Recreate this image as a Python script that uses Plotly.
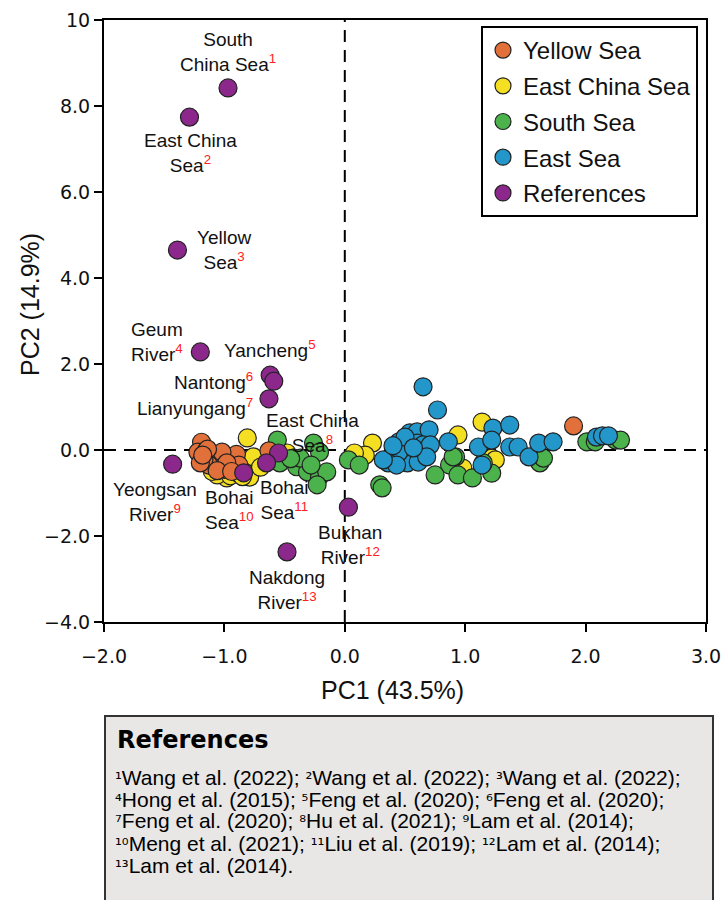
import plotly.graph_objects as go

# ---------------- data ----------------
# Yellow Sea (orange)
ys_x = [-1.19, -1.22, -1.15, -1.12, -1.10, -1.05, -1.00, -0.95, -0.92, -0.97, -1.03, -1.08, -1.13,
        -1.17, -1.20, -0.90, -0.88, -1.02, -0.98, -1.06, -0.94, -1.14, -1.18, -0.63, 1.90]
ys_y = [0.18, -0.05, -0.02, -0.15, -0.28, -0.35, -0.45, -0.40, -0.25, -0.18, -0.20, -0.10, -0.35,
        -0.22, -0.30, -0.10, -0.35, -0.05, -0.30, -0.48, -0.50, 0.02, -0.12, -0.02, 0.56]
# East China Sea (yellow)
ecs_x = [-0.81, -0.76, -0.79, -0.98, -1.06, -0.95, -0.88, -0.48, -0.43, -0.70, 0.23, 0.17, 0.08,
         0.94, 1.14, 0.98, 1.22, 1.25, -0.85, -1.10]
ecs_y = [0.28, -0.16, -0.63, -0.65, -0.58, -0.60, -0.55, -0.07, -0.19, -0.40, 0.16, -0.12, -0.07,
         0.35, 0.65, -0.42, -0.19, -0.23, -0.62, -0.50]
# South Sea (green)
ss_x = [-0.56, -0.26, -0.21, -0.54, -0.40, -0.31, -0.21, -0.15, -0.23, -0.37, 0.03, 0.12, 0.29, 0.31,
        0.92, 0.87, 0.94, 0.75, 1.06, 1.22, 1.15, 1.62, 1.65, 2.01, 2.08, 2.25, 2.29, 0.90, -0.45, -0.28]
ss_y = [0.23, 0.16, -0.05, -0.30, -0.39, -0.51, -0.62, -0.51, -0.81, -0.19, -0.23, -0.35, -0.81, -0.88,
        -0.16, -0.35, -0.58, -0.58, -0.65, -0.54, -0.30, -0.30, -0.19, 0.19, 0.19, 0.23, 0.23, -0.16, -0.20, -0.35]
# East Sea (blue)
es_x = [0.65, 0.77, 0.45, 0.54, 0.60, 0.70, 0.60, 0.65, 0.71, 0.54, 0.52, 0.61, 0.68, 0.45, 0.36, 0.43,
        0.32, 0.86, 1.11, 1.23, 1.37, 1.22, 1.14, 1.37, 1.44, 1.53, 1.61, 1.73, 2.09, 2.14, 2.19, 0.50, 0.57, 0.40]
es_y = [1.47, 0.93, 0.19, 0.40, 0.42, 0.47, 0.16, 0.12, 0.12, -0.07, -0.30, -0.28, -0.16, -0.05, -0.30, -0.35,
        -0.23, 0.19, 0.07, 0.51, 0.58, 0.23, -0.35, 0.07, 0.07, -0.16, 0.16, 0.19, 0.30, 0.33, 0.33, 0.30, 0.05, 0.10]
# References (purple)
ref_x = [-0.97, -1.29, -1.39, -1.20, -0.62, -0.59, -0.63, -0.55, -1.43, -0.84, -0.65, 0.03, -0.48]
ref_y = [8.42, 7.74, 4.65, 2.28, 1.74, 1.60, 1.19, -0.07, -0.33, -0.53, -0.30, -1.33, -2.37]

# labels for reference points
label_text = ["South<br>China Sea", "East China<br>Sea", "Yellow<br>Sea", "Geum<br>River", "Yancheng",
              "Nantong", "Lianyungang", "East China<br>Sea", "Yeongsan<br>River", "Bohai<br>Sea",
              "Bohai<br>Sea", "Bukhan<br>River", "Nakdong<br>River"]
label_num = ["1", "2", "3", "4", "5", "6", "7", "8", "9", "10", "11", "12", "13"]
label_x = [-0.97, -1.28, -1.00, -1.79, -1.02, -0.745, -0.745, -0.27, -1.58, -0.96, -0.50, 0.04, -0.48]
label_y = [9.26, 6.90, 4.65, 2.51, 2.35, 1.60, 1.00, 0.40, -1.21, -1.39, -1.16, -2.21, -3.26]
label_anchor = ["center", "center", "center", "left", "left", "right", "right", "center", "center",
                "center", "center", "center", "center"]

x_ticks = [-2, -1, 0, 1, 2, 3]
x_ticktext = ["−2.0", "−1.0", "0.0", "1.0", "2.0", "3.0"]
y_ticks = [-4, -2, 0, 2, 4, 6, 8, 10]
y_ticktext = ["−4.0", "−2.0", "0.0", "2.0", "4.0", "6.0", "8.0", "10"]

# references list: (superscript number, citation) per line
ref_entries = [
    [("¹", "Wang et al. (2022); "), ("²", "Wang et al. (2022); "), ("³", "Wang et al. (2022);")],
    [("⁴", "Hong et al. (2015); "), ("⁵", "Feng et al. (2020); "), ("⁶", "Feng et al. (2020);")],
    [("⁷", "Feng et al. (2020); "), ("⁸", "Hu et al. (2021); "), ("⁹", "Lam et al. (2014);")],
    [("¹⁰", "Meng et al. (2021); "), ("¹¹", "Liu et al. (2019); "), ("¹²", "Lam et al. (2014);")],
    [("¹³", "Lam et al. (2014).")],
]

# ---------------- figure ----------------
ARIAL = "Liberation Sans, Arial, sans-serif"
W, H = 725, 900
L, R, T, B = 104, 706, 20, 622
PW, PH = R - L, B - T


def px2paper_x(p):
    return (p - L) / PW


def px2paper_y(p):
    return (B - p) / PH


series = [
    ("East China Sea", ecs_x, ecs_y, "#F4DF22", 2),
    ("South Sea", ss_x, ss_y, "#4BB24C", 3),
    ("Yellow Sea", ys_x, ys_y, "#E1703A", 1),
    ("East Sea", es_x, es_y, "#2396CA", 4),
    ("References", ref_x, ref_y, "#8C288C", 5),
]

fig = go.Figure()
for name, xs, ysr, col, rank in series:
    fig.add_trace(go.Scatter(
        x=xs, y=ysr, mode="markers", name=name, legendrank=rank, legendgroup=name,
        marker=dict(size=18, color=col, line=dict(color="#222222", width=1.2)),
    ))

# dashed zero lines
fig.add_shape(type="line", xref="paper", yref="y", x0=0, x1=1, y0=0, y1=0,
              line=dict(color="black", width=2, dash="12px,8px"), layer="below")
fig.add_shape(type="line", xref="x", yref="paper", x0=0, x1=0, y0=0, y1=1,
              line=dict(color="black", width=2, dash="12px,8px"), layer="below")

# labels
for t, n, lx, ly, anc in zip(label_text, label_num, label_x, label_y, label_anchor):
    fig.add_annotation(
        x=lx, y=ly, xref="x", yref="y", showarrow=False,
        text=f"{t}<sup><span style='color:#FF2020'>{n}</span></sup>",
        xanchor=anc, yanchor="middle", align="left" if anc == "left" else "center",
        font=dict(family=ARIAL, size=19, color="#111111"),
    )

# axis titles
fig.add_annotation(x=px2paper_x(392), y=px2paper_y(690), xref="paper", yref="paper",
                   text="PC1 (43.5%)", showarrow=False, xanchor="center", yanchor="middle",
                   font=dict(family=ARIAL, size=25, color="#111111"))
fig.add_annotation(x=px2paper_x(30), y=px2paper_y(305), xref="paper", yref="paper",
                   text="PC2 (14.9%)", showarrow=False, textangle=-90, xanchor="center",
                   yanchor="middle", font=dict(family=ARIAL, size=25, color="#111111"))

# references box
fig.add_shape(type="rect", xref="paper", yref="paper",
              x0=px2paper_x(105), x1=px2paper_x(713), y0=px2paper_y(716), y1=px2paper_y(915),
              fillcolor="#E8E7E6", line=dict(color="#333333", width=2))
fig.add_annotation(x=px2paper_x(115), y=px2paper_y(740), xref="paper", yref="paper",
                   text="<b>References</b>", showarrow=False, xanchor="left", yanchor="middle",
                   font=dict(family="DejaVu Sans", size=24, color="black"))
SUP = "<span style='font-family:DejaVu Sans;font-size:17px'>{}</span>"
for i, entries in enumerate(ref_entries):
    line = "".join(SUP.format(s) + c for s, c in entries)
    fig.add_annotation(x=px2paper_x(113), y=px2paper_y(777 + 22 * i), xref="paper", yref="paper",
                       text=line, showarrow=False, xanchor="left", yanchor="middle", align="left",
                       font=dict(family=ARIAL, size=21, color="black"))

fig.update_layout(
    width=W, height=H,
    margin=dict(l=L, r=W - R, t=T, b=H - B, pad=0, autoexpand=False),
    plot_bgcolor="white", paper_bgcolor="white",
    showlegend=True,
    legend=dict(x=px2paper_x(481), y=px2paper_y(26), xanchor="left", yanchor="top",
                bordercolor="black", borderwidth=2, bgcolor="white",
                font=dict(family=ARIAL, size=24, color="#111111"),
                tracegroupgap=1.5, itemsizing="trace"),
    xaxis=dict(range=[-2, 3], tickvals=x_ticks, ticktext=x_ticktext, showgrid=False, zeroline=False,
               showline=True, linecolor="black", linewidth=2, mirror=True, ticks="outside",
               ticklen=8, tickwidth=1.5, tickcolor="black", ticklabelstandoff=8, automargin=False,
               tickfont=dict(family="DejaVu Sans", size=19, color="#111111")),
    yaxis=dict(range=[-4, 10], tickvals=y_ticks, ticktext=y_ticktext, showgrid=False, zeroline=False,
               showline=True, linecolor="black", linewidth=2, mirror=True, ticks="outside",
               ticklen=8, tickwidth=1.5, tickcolor="black", automargin=False,
               tickfont=dict(family="DejaVu Sans", size=19, color="#111111")),
)

fig.write_html("out.html")
